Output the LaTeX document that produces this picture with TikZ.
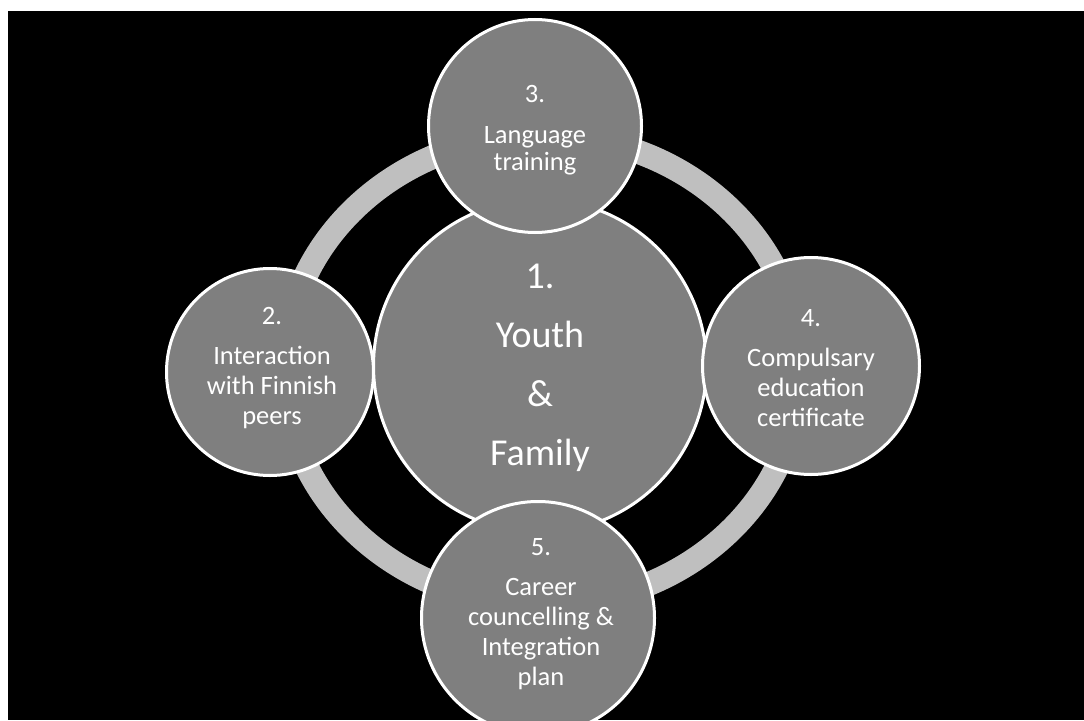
\documentclass[tikz,border=0pt]{standalone}
\usepackage{fontspec}
\setmainfont{Carlito}
\definecolor{bubblegray}{HTML}{7F7F7F}
\definecolor{ringgray}{HTML}{BFBFBF}

\begin{document}
\begin{tikzpicture}[x=1pt, y=-1pt,
  bubble/.style={circle, draw=white, line width=3pt, fill=bubblegray, inner sep=0pt},
  bigtext/.style={text=white, align=center, inner sep=0pt, font=\fontsize{38}{59}\selectfont},
  smalltext/.style={text=white, align=center, inner sep=0pt, font=\fontsize{26.5}{30}\selectfont}]
  \useasboundingbox (0,0) rectangle (1084,720);
  \fill[white] (0,0) rectangle (1084,720);
  \fill[black] (8,11) rectangle (1084,720);
  % Draw the ring behind the circles
  \draw[ringgray, line width=24pt] (542,370) ellipse [x radius=258, y radius=235];
  \node[bubble, minimum size=333pt] (1) at (540,366) {};
  \node[bubble, minimum size=213pt] (3) at (535,126) {};
  \node[bubble, minimum size=207pt] (2) at (270,372) {};
  \node[bubble, minimum size=217pt] (4) at (811,366) {};
  \node[bubble, minimum size=233pt] (5) at (538,618) {};
  % Texts of the circles
  \node[bigtext] (t1) at (540,368) {1.\\Youth\\\&\\Family};
  \node[smalltext, font=\fontsize{26.5}{27}\selectfont] (t3) at (535,130) {3.\\[14pt]Language\\training};
  \node[smalltext] (t2) at (272,368) {2.\\[10pt]Interaction\\with Finnish\\peers};
  \node[smalltext] (t4) at (811,368) {4.\\[10pt]Compulsary\\education\\certificate};
  \node[smalltext] (t5) at (541,614) {5.\\[10pt]Career\\councelling \&\\Integration\\plan};
\end{tikzpicture}
\end{document}
